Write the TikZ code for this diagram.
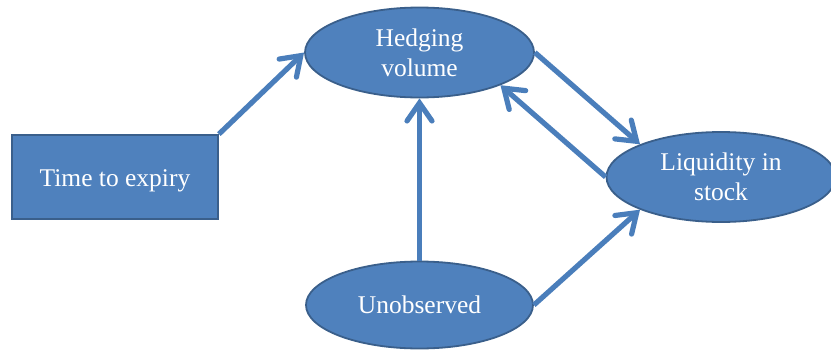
\documentclass[tikz,border=0pt]{standalone}
\usepackage{fontspec}
\setmainfont{Liberation Serif}
\usetikzlibrary{shapes.geometric,arrows.meta}
\definecolor{boxfill}{HTML}{4F81BD}
\definecolor{boxline}{HTML}{3A5F8B}
\definecolor{arrowcol}{HTML}{4A7EBB}
\begin{document}
\begin{tikzpicture}[x=1pt,y=1pt,
  base/.style={fill=boxfill,draw=boxline,line width=1.8pt,text=white,align=center,
    font=\fontsize{25.5}{30}\selectfont,inner sep=0pt},
  rectbox/.style={base,rectangle,minimum width=206pt,minimum height=84pt,text height=18pt,text depth=0pt},
  ellbox/.style={base,ellipse,minimum width=229pt,minimum height=90pt},
  conn/.style={draw=arrowcol,line width=5.2pt,
    -{Straight Barb[length=18pt,width=25pt,line cap=round]}}]
\useasboundingbox (0,0) rectangle (831,-351);
\node[rectbox] (time) at (115,-177) {Time to expiry};
\node[ellbox] (hedge) at (419.5,-52.5) {Hedging\\volume};
\node[ellbox] (liq) at (721,-177) {Liquidity in\\stock};
\node[ellbox,minimum width=227pt,minimum height=87pt] (unobs) at (419.5,-305) {Unobserved};
\draw[conn] (time.north east) -- (hedge.west);
\draw[conn] (unobs.north) -- (hedge.south);
\draw[conn] (hedge.east) -- (liq.158);
\draw[conn] (liq.west) -- (hedge.-22);
\draw[conn] (unobs.east) -- (liq.202);
\end{tikzpicture}
\end{document}
